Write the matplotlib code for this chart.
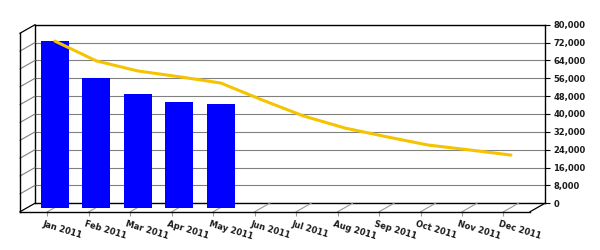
import matplotlib
matplotlib.use("Agg")
import matplotlib.pyplot as plt
import matplotlib.transforms as mtransforms
from matplotlib.lines import Line2D

# Dati
months = ["Jan 2011", "Feb 2011", "Mar 2011", "Apr 2011", "May 2011", "Jun 2011",
          "Jul 2011", "Aug 2011", "Sep 2011", "Oct 2011", "Nov 2011", "Dec 2011"]
actual = [74800, 57900, 50900, 47300, 46400]
trend = [74600, 65700, 61200, 58600, 55800, 48200, 41000, 35600, 31700, 28000, 25800, 23500]
yticks = list(range(0, 80001, 8000))

W, H = 600, 250
fig = plt.figure(figsize=(6, 2.5), dpi=100)
fig.patch.set_facecolor("white")

# piano centrale (barre e linea), parete di fondo e bordo frontale
left, bottom, width, height = 27.5, 207.5, 510, 178.5
dx, dy = 7.5, 4.25


def rect(l, b):
    return [l / W, (H - b) / H, width / W, height / H]


xlim = (-0.66, 11.64)
ylim = (0, 80000)

axb = fig.add_axes(rect(left + dx, bottom - dy), zorder=0)
axf = fig.add_axes(rect(left - dx, bottom + dy), zorder=1.5)
ax = fig.add_axes(rect(left, bottom), zorder=2)

for a in (axb, axf, ax):
    a.set_xlim(*xlim)
    a.set_ylim(*ylim)

# parete di fondo
axb.set_facecolor("white")
axb.set_xticks([])
axb.set_yticks(yticks)
axb.set_yticklabels([f"{v:,}" for v in yticks])
axb.yaxis.tick_right()
axb.tick_params(axis="y", labelsize=6, length=3.5, width=0.8, pad=2.5, colors="black")
for lab in axb.get_yticklabels():
    lab.set_fontweight("bold")
    lab.set_color("#1a1a1a")
axb.grid(axis="y", color="#808080", lw=0.8)
for s in axb.spines.values():
    s.set_color("black")
    s.set_linewidth(1)

# bordo frontale
axf.patch.set_visible(False)
axf.spines["top"].set_visible(False)
axf.spines["right"].set_visible(False)
for s in ("left", "bottom"):
    axf.spines[s].set_color("black")
    axf.spines[s].set_linewidth(1)
axf.set_yticks([])
axf.set_xticks(range(len(months)))
axf.set_xticklabels(months)
axf.tick_params(axis="x", length=3, width=0.8, color="#999999", pad=2.5, labelsize=6)
shift = mtransforms.ScaledTranslation(-3 / 100, 0, fig.dpi_scale_trans)
for lab in axf.get_xticklabels():
    lab.set_rotation(-17)
    lab.set_ha("left")
    lab.set_va("top")
    lab.set_rotation_mode("anchor")
    lab.set_fontweight("bold")
    lab.set_color("#1a1a1a")
    lab.set_transform(lab.get_transform() + shift)

# barre e linea
ax.set_axis_off()
ax.bar(range(len(actual)), actual, width=0.67, color="#0000FF")
ax.plot(range(len(trend)), trend, color="#F5C400", lw=2.2, solid_capstyle="round")

# linee di profondita
inv = fig.transFigure.inverted()


def depth_line(xv, yv, color):
    p1 = inv.transform(axf.transData.transform((xv, yv)))
    p2 = inv.transform(axb.transData.transform((xv, yv)))
    fig.add_artist(Line2D([p1[0], p2[0]], [p1[1], p2[1]], color=color,
                          lw=0.9 if color == "black" else 0.8, zorder=1))


for v in yticks:
    depth_line(xlim[0], v, "black" if v in (0, 80000) else "#808080")
for i in range(len(months)):
    depth_line(i, 0, "#999999")
depth_line(xlim[1], 0, "black")

fig.savefig("out.png", dpi=100)
